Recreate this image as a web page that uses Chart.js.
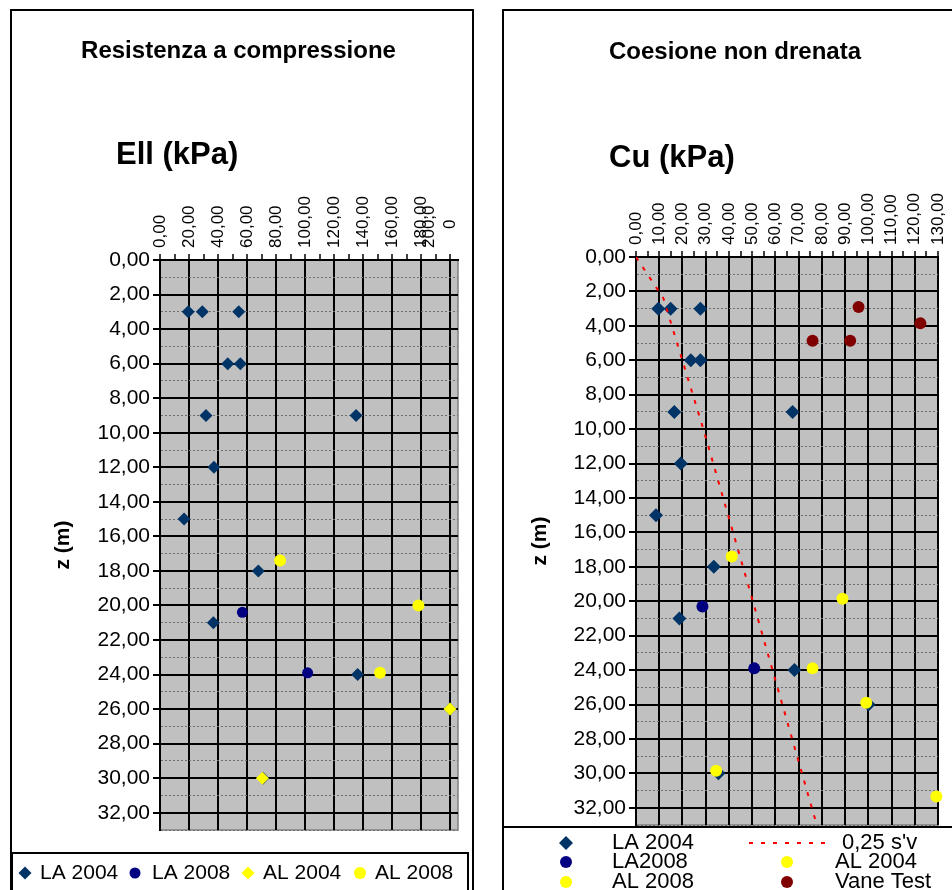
<!DOCTYPE html>
<html>
<head>
<meta charset="utf-8">
<script src="https://cdn.jsdelivr.net/npm/chart.js@4/dist/chart.umd.min.js"></script>
<style>
  body { margin: 0; background: #fff; font-family: "Liberation Sans", Arial, sans-serif; }
  #wrap { position: relative; width: 952px; height: 890px; overflow: hidden; }
  .panel { position: absolute; border: 2px solid #000; box-sizing: border-box; }
  canvas { position: absolute; top: 0; }
  .head { position: absolute; font-weight: bold; white-space: nowrap; color: #000; }
  .title { font-size: 24px; line-height: 24px; text-align: center; }
  .unit { font-size: 31px; line-height: 31px; }
</style>
</head>
<body>
<div id="wrap">
  <div class="panel" style="left:10px;top:9px;width:464px;height:900px"></div>
  <div class="panel" style="left:502px;top:9px;width:470px;height:900px"></div>
  <canvas id="ellChart" width="480" height="890" style="left:0"></canvas>
  <canvas id="cuChart" width="472" height="890" style="left:480px"></canvas>
  <div class="head title" style="left:0;top:38px;width:477px">Resistenza a compressione</div>
  <div class="head title" style="left:503px;top:39px;width:464px">Coesione non drenata</div>
  <div class="head unit" style="left:116px;top:138px">Ell (kPa)</div>
  <div class="head unit" style="left:609px;top:141px">Cu (kPa)</div>
</div>
<script>
// Ell (kPa) against depth z (m)
const ellLA2004Depth = [3, 3, 3, 6, 6, 9, 9, 12, 15, 18, 21, 24, 26, 30];
const ellLA2004 = [19.5, 29.2, 54.3, 46.7, 55.4, 31.7, 135.2, 37.2, 16.6, 67.8, 36.8, 136.3, 200, 71];
const ellLA2008Depth = [20.4, 23.9];
const ellLA2008 = [56.8, 101.8];
const ellAL2004Depth = [26, 30];
const ellAL2004 = [200, 70.6];
const ellAL2008Depth = [17.4, 20, 23.9];
const ellAL2008 = [82.8, 178.2, 151.7];

// Cu (kPa) against depth z (m)
const cuLA2004Depth = [3, 3, 3, 6, 6, 9, 9, 12, 15, 18, 21, 24, 26, 30];
const cuLA2004 = [9.6, 14.9, 27.7, 23.6, 27.7, 16.5, 67.4, 19.3, 8.6, 33.5, 18.7, 68.2, 100.1, 35.5];
const cuLA2008Depth = [20.3, 23.9];
const cuLA2008 = [28.6, 50.9];
const cuAL2008Depth = [17.4, 19.85, 23.9];
const cuAL2008 = [41.2, 88.9, 76];
const cuAL2004Depth = [25.9, 29.85, 31.35];
const cuAL2004 = [99.1, 34.5, 129.3];
const vaneDepth = [2.9, 3.85, 4.87, 4.87];
const vaneCu = [95.8, 122.4, 76, 92.2];
const svDepth = [0, 2.4, 10, 20, 33];
const svCu = [0, 11.8, 29, 50.3, 77.8];

const FONT = '"Liberation Sans", Arial, sans-serif';
Chart.defaults.font.family = FONT;
Chart.defaults.color = '#000';

const TICK_SIZE = 17;
const TICK_LINE = TICK_SIZE * 1.2;

const fmt = v => v.toFixed(2).replace('.', ',');
const pts = (depth, vals) => depth.map((z, i) => ({ x: vals[i], y: z }));

// grey plot area with a thin frame
const plotArea = {
  id: 'plotArea',
  beforeDraw(chart, args, opts) {
    const { ctx, chartArea: a } = chart;
    ctx.save();
    ctx.fillStyle = opts.fill;
    ctx.fillRect(a.left, a.top, a.width, a.height);
    ctx.strokeStyle = opts.edge;
    ctx.lineWidth = 1.5;
    ctx.strokeRect(a.left, a.top, a.width, a.height);
    ctx.restore();
  }
};

function drawMarker(ctx, style, x, y, r, color) {
  ctx.beginPath();
  if (style === 'rectRot') {
    ctx.moveTo(x, y - r);
    ctx.lineTo(x + r, y);
    ctx.lineTo(x, y + r);
    ctx.lineTo(x - r, y);
    ctx.closePath();
  } else {
    ctx.arc(x, y, r, 0, Math.PI * 2);
  }
  ctx.fillStyle = color;
  ctx.fill();
}

// boxed legend, items placed by hand like the spreadsheet legend
const boxLegend = {
  id: 'boxLegend',
  afterDraw(chart, args, opts) {
    const ctx = chart.ctx;
    const b = opts.box;
    ctx.save();
    ctx.fillStyle = '#fff';
    ctx.fillRect(b.x, b.y, b.w, b.h);
    ctx.lineWidth = 2;
    ctx.strokeStyle = '#000';
    ctx.strokeRect(b.x, b.y, b.w, b.h);
    ctx.font = opts.font;
    ctx.textBaseline = 'middle';
    opts.items.forEach(it => {
      const ds = chart.data.datasets[it.index];
      if (ds.showLine) {
        ctx.save();
        ctx.strokeStyle = ds.borderColor;
        ctx.lineWidth = ds.borderWidth;
        ctx.setLineDash(ds.borderDash);
        ctx.beginPath();
        ctx.moveTo(it.x1, it.y);
        ctx.lineTo(it.x2, it.y);
        ctx.stroke();
        ctx.restore();
      } else {
        drawMarker(ctx, ds.pointStyle, it.x, it.y, ds.pointRadius, ds.backgroundColor);
      }
      ctx.fillStyle = '#000';
      ctx.fillText(ds.label, it.tx, it.y);
    });
    ctx.restore();
  }
};

function marker(label, data, style, color, order, r) {
  return {
    label, data, order,
    pointStyle: style,
    pointRadius: r,
    backgroundColor: color,
    borderColor: color,
    borderWidth: 0,
    clip: false
  };
}

function depthAxis(width) {
  const minor = c => c.tick && c.tick.value % 2 !== 0;
  return {
    reverse: true,
    min: 0,
    max: 33,
    afterFit: s => { s.width = width; },
    ticks: {
      stepSize: 1,
      autoSkip: false,
      includeBounds: false,
      padding: 3,
      font: { size: 21 },
      callback: v => (v % 2 ? '' : fmt(v))
    },
    grid: {
      color: c => (minor(c) ? '#6f6f6f' : '#000'),
      lineWidth: c => (minor(c) ? 1 : 2),
      tickColor: c => (minor(c) ? 'rgba(0,0,0,0)' : '#000'),
      tickLength: 7,
      tickWidth: 2
    },
    border: { color: '#000', width: 2, dash: c => (minor(c) ? [2, 2] : []) },
    title: { display: true, text: 'z (m)', font: { size: 21, weight: 'bold' } }
  };
}

function valueAxis(max, step, major, label) {
  return {
    position: 'top',
    min: 0,
    max: max,
    afterFit: s => { s.height = 100; },
    ticks: {
      stepSize: step,
      autoSkip: false,
      includeBounds: false,
      minRotation: 90,
      maxRotation: 90,
      padding: 6,
      font: { size: TICK_SIZE },
      // keep the rotated labels centred on their grid line (two-line labels too)
      labelOffset: c => (c.tick && Array.isArray(label(c.tick.value)) ? 1.5 : 1) * TICK_LINE,
      callback: label
    },
    grid: {
      color: c => (c.tick && c.tick.value % major ? 'rgba(0,0,0,0)' : '#000'),
      lineWidth: 2,
      tickColor: '#000',
      tickLength: 6,
      tickWidth: 1.5
    },
    border: { color: '#000', width: 2 }
  };
}

new Chart(document.getElementById('ellChart'), {
  type: 'scatter',
  data: {
    datasets: [
      marker('LA 2004', pts(ellLA2004Depth, ellLA2004), 'rectRot', '#003366', 4, 6.5),
      marker('LA 2008', pts(ellLA2008Depth, ellLA2008), 'circle', '#000080', 3, 5.5),
      marker('AL 2004', pts(ellAL2004Depth, ellAL2004), 'rectRot', '#ffff00', 2, 6.5),
      marker('AL 2008', pts(ellAL2008Depth, ellAL2008), 'circle', '#ffff00', 1, 6)
    ]
  },
  options: {
    responsive: false,
    animation: false,
    events: [],
    layout: { padding: { left: 47, right: 22, top: 160, bottom: 60 } },
    scales: {
      // the last label wraps onto two lines
      x: valueAxis(205.5, 10, 20, v => (v % 20 ? '' : v === 200 ? ['200,0', '    0'] : fmt(v))),
      y: depthAxis(113)
    },
    plugins: {
      legend: { display: false },
      tooltip: { enabled: false },
      plotArea: { fill: '#c0c0c0', edge: '#808080' },
      boxLegend: {
        font: '21px ' + FONT,
        box: { x: 12, y: 853, w: 456, h: 60 },
        items: [
          { index: 0, x: 25, y: 873, tx: 40 },
          { index: 1, x: 135, y: 873, tx: 152 },
          { index: 2, x: 248, y: 873, tx: 263 },
          { index: 3, x: 360, y: 873, tx: 375 }
        ]
      }
    }
  },
  plugins: [plotArea, boxLegend]
});

new Chart(document.getElementById('cuChart'), {
  type: 'scatter',
  data: {
    datasets: [
      marker('LA 2004', pts(cuLA2004Depth, cuLA2004), 'rectRot', '#003366', 5, 7),
      marker('LA2008', pts(cuLA2008Depth, cuLA2008), 'circle', '#000080', 4, 6),
      marker('AL 2008', pts(cuAL2008Depth, cuAL2008), 'circle', '#ffff00', 2, 6),
      marker('AL 2004', pts(cuAL2004Depth, cuAL2004), 'circle', '#ffff00', 1, 6),
      marker('Vane Test', pts(vaneDepth, vaneCu), 'circle', '#800000', 3, 6),
      {
        label: "0,25 s'v",
        data: pts(svDepth, svCu),
        showLine: true,
        order: 0,
        pointRadius: 0,
        borderColor: '#ff0000',
        borderWidth: 2,
        borderDash: [4, 8]
      }
    ]
  },
  options: {
    responsive: false,
    animation: false,
    events: [],
    layout: { padding: { left: 44, right: 14, top: 157, bottom: 65 } },
    scales: {
      x: valueAxis(130, 5, 10, v => (v % 10 ? '' : fmt(v))),
      y: depthAxis(112)
    },
    plugins: {
      legend: { display: false },
      tooltip: { enabled: false },
      plotArea: { fill: '#c0c0c0', edge: '#808080' },
      boxLegend: {
        font: '22px ' + FONT,
        box: { x: 23, y: 827, w: 470, h: 80 },
        items: [
          { index: 0, x: 86, y: 843, tx: 132 },
          { index: 1, x: 86, y: 862, tx: 132 },
          { index: 2, x: 86, y: 882, tx: 132 },
          { index: 5, x1: 269, x2: 345, y: 843, tx: 362 },
          { index: 3, x: 307, y: 862, tx: 355 },
          { index: 4, x: 307, y: 882, tx: 355 }
        ]
      }
    }
  },
  plugins: [plotArea, boxLegend]
});
</script>
</body>
</html>
